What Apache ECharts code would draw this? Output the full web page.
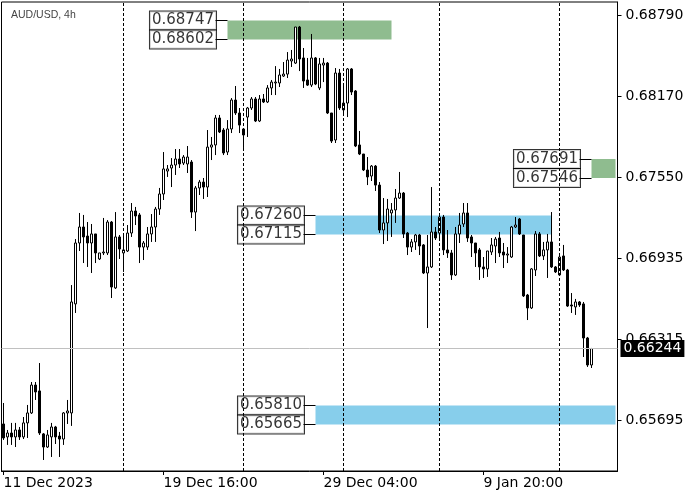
<!DOCTYPE html>
<html>
<head>
<meta charset="utf-8">
<script src="https://cdn.jsdelivr.net/npm/echarts@6/dist/echarts.min.js"></script>
<style>
  html, body { margin: 0; padding: 0; background: #fff; }
  #chart { width: 695px; height: 495px; }
</style>
</head>
<body>
<div id="chart"></div>
<script>
// AUD/USD 4h candles (148 bars)
const opens = [
  0.65669, 0.65570, 0.65600, 0.65570, 0.65623, 0.65570, 0.65677, 0.65753, 0.65966, 0.65921,
  0.65593, 0.65493, 0.65570, 0.65646, 0.65577, 0.65554, 0.65753, 0.65753, 0.66585, 0.67050,
  0.67172, 0.67103, 0.67050, 0.67119, 0.66928, 0.66974, 0.66974, 0.67210, 0.66707, 0.67096,
  0.66974, 0.66989, 0.67126, 0.67294, 0.67264, 0.67019, 0.67019, 0.67119, 0.67172, 0.67309,
  0.67424, 0.67599, 0.67622, 0.67645, 0.67691, 0.67660, 0.67653, 0.67668, 0.67286, 0.67470,
  0.67515, 0.67477, 0.67782, 0.67798, 0.68004, 0.67912, 0.67744, 0.67920, 0.68141, 0.68042,
  0.67920, 0.68011, 0.68080, 0.68149, 0.67981, 0.68149, 0.68126, 0.68233, 0.68271, 0.68271,
  0.68324, 0.68339, 0.68439, 0.68423, 0.68698, 0.68462, 0.68294, 0.68255, 0.68462, 0.68233,
  0.68408, 0.68423, 0.68042, 0.67836, 0.68347, 0.68065, 0.68118, 0.68378, 0.68210, 0.67798,
  0.67729, 0.67607, 0.67561, 0.67637, 0.67492, 0.67149, 0.67203, 0.67279, 0.67302, 0.67393,
  0.67431, 0.67126, 0.67019, 0.67058, 0.67111, 0.67035, 0.66821, 0.66867, 0.67134, 0.67126,
  0.67248, 0.66997, 0.66974, 0.66806, 0.67119, 0.67195, 0.67279, 0.67096, 0.67050, 0.66997,
  0.66867, 0.66852, 0.66981, 0.67027, 0.67088, 0.66981, 0.66958, 0.66943, 0.67172, 0.67233,
  0.67111, 0.66653, 0.66554, 0.66844, 0.67119, 0.66951, 0.66997, 0.67058, 0.66867, 0.66806,
  0.66951, 0.66844, 0.66577, 0.66562, 0.66600, 0.66585, 0.66325, 0.66119
];
const highs = [
  0.65829, 0.65623, 0.65677, 0.65677, 0.65646, 0.65722, 0.65814, 0.65989, 0.65989, 0.66134,
  0.65600, 0.65623, 0.65677, 0.65654, 0.65608, 0.65760, 0.65852, 0.66729, 0.67080, 0.67279,
  0.67264, 0.67210, 0.67195, 0.67119, 0.66974, 0.67241, 0.67225, 0.67218, 0.67286, 0.67111,
  0.67111, 0.67187, 0.67355, 0.67325, 0.67279, 0.67065, 0.67172, 0.67271, 0.67325, 0.67470,
  0.67744, 0.67645, 0.67698, 0.67767, 0.67767, 0.67721, 0.67790, 0.67683, 0.67485, 0.67531,
  0.67546, 0.67912, 0.67859, 0.68027, 0.68027, 0.67927, 0.67988, 0.68156, 0.68248, 0.68080,
  0.67927, 0.68088, 0.68164, 0.68164, 0.68179, 0.68187, 0.68255, 0.68294, 0.68400, 0.68378,
  0.68431, 0.68507, 0.68523, 0.68698, 0.68706, 0.68538, 0.68462, 0.68645, 0.68469, 0.68462,
  0.68462, 0.68431, 0.68042, 0.68385, 0.68378, 0.68255, 0.68385, 0.68385, 0.68217, 0.67905,
  0.67729, 0.67706, 0.67645, 0.67645, 0.67515, 0.67393, 0.67386, 0.67355, 0.67462, 0.67592,
  0.67439, 0.67134, 0.67080, 0.67119, 0.67119, 0.67042, 0.67111, 0.67477, 0.67172, 0.67264,
  0.67264, 0.67149, 0.66997, 0.67172, 0.67279, 0.67355, 0.67355, 0.67111, 0.67050, 0.67012,
  0.66943, 0.66989, 0.67088, 0.67096, 0.67134, 0.67050, 0.67019, 0.67180, 0.67248, 0.67241,
  0.67111, 0.66661, 0.66859, 0.67141, 0.67134, 0.67058, 0.67119, 0.67286, 0.66874, 0.66951,
  0.67035, 0.66852, 0.66668, 0.66623, 0.66607, 0.66600, 0.66333, 0.66249
];
const lows = [
  0.65547, 0.65509, 0.65509, 0.65493, 0.65547, 0.65554, 0.65562, 0.65745, 0.65852, 0.65585,
  0.65394, 0.65486, 0.65417, 0.65516, 0.65417, 0.65509, 0.65669, 0.65654, 0.66516, 0.66989,
  0.66897, 0.66867, 0.66821, 0.66897, 0.66920, 0.66958, 0.66958, 0.66630, 0.66699, 0.66928,
  0.66829, 0.66981, 0.67096, 0.67187, 0.66897, 0.66920, 0.66997, 0.67058, 0.67058, 0.67264,
  0.67378, 0.67554, 0.67477, 0.67569, 0.67622, 0.67645, 0.67584, 0.67241, 0.67141, 0.67416,
  0.67386, 0.67401, 0.67683, 0.67721, 0.67889, 0.67721, 0.67721, 0.67889, 0.68027, 0.67889,
  0.67775, 0.67859, 0.68065, 0.67973, 0.67973, 0.68118, 0.68118, 0.68179, 0.68179, 0.68240,
  0.68317, 0.68309, 0.68393, 0.68416, 0.68362, 0.68233, 0.68248, 0.68240, 0.68255, 0.68217,
  0.68278, 0.68034, 0.67813, 0.67813, 0.68065, 0.68042, 0.68011, 0.68179, 0.67782, 0.67721,
  0.67599, 0.67492, 0.67523, 0.67447, 0.67126, 0.67042, 0.67065, 0.67096, 0.67203, 0.67386,
  0.67088, 0.66958, 0.66981, 0.66997, 0.66958, 0.66813, 0.66401, 0.66859, 0.67073, 0.67073,
  0.66958, 0.66936, 0.66768, 0.66798, 0.67050, 0.67172, 0.67058, 0.66943, 0.66867, 0.66768,
  0.66783, 0.66791, 0.66958, 0.66897, 0.66943, 0.66859, 0.66897, 0.66936, 0.67164, 0.67111,
  0.66638, 0.66462, 0.66546, 0.66798, 0.66943, 0.66920, 0.66783, 0.66859, 0.66821, 0.66798,
  0.66836, 0.66562, 0.66516, 0.66501, 0.66562, 0.66180, 0.66104, 0.66096
];
const closes = [
  0.65562, 0.65600, 0.65570, 0.65623, 0.65570, 0.65677, 0.65753, 0.65966, 0.65913, 0.65600,
  0.65493, 0.65585, 0.65646, 0.65570, 0.65554, 0.65753, 0.65768, 0.66600, 0.67050, 0.67172,
  0.67096, 0.67050, 0.67119, 0.66974, 0.66974, 0.66981, 0.67210, 0.66714, 0.67096, 0.67004,
  0.66997, 0.67126, 0.67294, 0.67256, 0.67019, 0.67050, 0.67119, 0.67172, 0.67309, 0.67424,
  0.67615, 0.67615, 0.67645, 0.67691, 0.67653, 0.67706, 0.67706, 0.67286, 0.67470, 0.67515,
  0.67477, 0.67782, 0.67798, 0.68004, 0.67897, 0.67737, 0.67920, 0.68141, 0.68042, 0.67950,
  0.67874, 0.68080, 0.68149, 0.67981, 0.68149, 0.68126, 0.68233, 0.68278, 0.68278, 0.68332,
  0.68339, 0.68446, 0.68454, 0.68698, 0.68454, 0.68286, 0.68255, 0.68462, 0.68263, 0.68416,
  0.68423, 0.68042, 0.67828, 0.68347, 0.68080, 0.68118, 0.68378, 0.68202, 0.67790, 0.67729,
  0.67607, 0.67554, 0.67637, 0.67492, 0.67149, 0.67203, 0.67309, 0.67302, 0.67393, 0.67431,
  0.67119, 0.67019, 0.67058, 0.67111, 0.67027, 0.66821, 0.66867, 0.67134, 0.67088, 0.67248,
  0.66997, 0.66974, 0.66806, 0.67119, 0.67187, 0.67279, 0.67088, 0.67050, 0.66974, 0.66867,
  0.66852, 0.66989, 0.67035, 0.67080, 0.66974, 0.66958, 0.66966, 0.67172, 0.67187, 0.67119,
  0.66646, 0.66554, 0.66852, 0.67119, 0.66951, 0.66997, 0.67058, 0.66867, 0.66829, 0.66943,
  0.66844, 0.66569, 0.66569, 0.66600, 0.66577, 0.66325, 0.66119, 0.66244
];

// x slots (bars + empty right margin), time labels, week separators
const slotCount = 154;
const tickIdx = [0, 40, 80, 120];
const tickText = ['11 Dec 2023', '19 Dec 16:00', '29 Dec 04:00', '9 Jan 20:00'];
const separators = [30, 60, 85, 109, 139];

// price scale
const priceMin = 0.65310;
const priceMax = 0.68889;
const priceTicks = [0.65695, 0.66315, 0.66935, 0.67550, 0.68170, 0.68790];
const lastPrice = 0.66244;

// supply / demand zones
const zoneTop = [0.68747, 0.67691, 0.67260, 0.65810];
const zoneBottom = [0.68602, 0.67546, 0.67115, 0.65665];
const zoneStart = [56, 147, 78, 78];
const zoneEnd = [97, 153, 137, 153];
const zoneColor = ['#8fbc8f', '#8fbc8f', '#87ceeb', '#87ceeb'];

const FONT = 'DejaVu Sans';

let slots = [];
for (let i = 0; i < slotCount; i++) slots.push(String(i));

let candles = opens.map((o, i) => [o, closes[i], lows[i], highs[i]]);

let areaData = zoneTop.map((t, k) => [
  {xAxis: zoneStart[k], yAxis: t, itemStyle: {color: zoneColor[k], opacity: 1}},
  {xAxis: zoneEnd[k], yAxis: zoneBottom[k]}
]);

let lineData = [];
separators.forEach(idx => {
  lineData.push({
    xAxis: idx,
    lineStyle: {type: [3, 2], color: '#000', width: 1},
    label: {show: false}
  });
});
lineData.push({
  yAxis: lastPrice,
  lineStyle: {type: 'solid', color: '#c0c0c0', width: 1},
  label: {
    show: true,
    position: 'end',
    distance: 3,
    formatter: () => lastPrice.toFixed(5),
    backgroundColor: '#000',
    color: '#fff',
    fontFamily: FONT,
    fontSize: 14,
    padding: [2, 3, 1, 3]
  }
});
// short connectors from the price boxes to the zones
zoneTop.forEach((t, k) => {
  [t, zoneBottom[k]].forEach(p => {
    lineData.push([
      {coord: [zoneStart[k] - 3, p], lineStyle: {type: 'solid', color: '#000', width: 1}, label: {show: false}},
      {coord: [zoneStart[k], p]}
    ]);
  });
});

let zoneLabels = [];
zoneTop.forEach((t, k) => {
  zoneLabels.push([zoneStart[k], t]);
  zoneLabels.push([zoneStart[k], zoneBottom[k]]);
});

const chart = echarts.init(document.getElementById('chart'));
chart.setOption({
  animation: false,
  backgroundColor: '#fff',
  title: {
    text: 'AUD/USD, 4h',
    left: 11,
    top: 10,
    padding: 0,
    textStyle: {fontSize: 10.5, fontWeight: 'normal', color: '#444', fontFamily: 'Liberation Sans'}
  },
  grid: {
    left: 1.5, right: 77.5, top: 2, bottom: 24,
    show: true, borderColor: '#000', borderWidth: 1, backgroundColor: '#fff'
  },
  xAxis: {
    type: 'category',
    data: slots,
    boundaryGap: true,
    axisLine: {show: true, lineStyle: {color: '#000', width: 1}},
    axisTick: {
      show: true,
      alignWithLabel: true,
      length: 4,
      interval: (index) => tickIdx.indexOf(index) >= 0,
      lineStyle: {color: '#000'}
    },
    axisLabel: {
      interval: (index) => tickIdx.indexOf(index) >= 0,
      formatter: (value) => tickText[tickIdx.indexOf(Number(value))] || '',
      align: 'left',
      margin: 5,
      color: '#000',
      fontFamily: FONT,
      fontSize: 14
    },
    splitLine: {show: false}
  },
  yAxis: {
    type: 'value',
    position: 'right',
    min: priceMin,
    max: priceMax,
    scale: true,
    axisLine: {show: true, lineStyle: {color: '#000', width: 1}},
    axisTick: {show: true, length: 4, customValues: priceTicks, lineStyle: {color: '#000'}},
    axisLabel: {
      customValues: priceTicks,
      formatter: v => v.toFixed(5),
      margin: 8,
      color: '#000',
      fontFamily: FONT,
      fontSize: 14
    },
    splitLine: {show: false}
  },
  series: [
    {
      type: 'candlestick',
      data: candles,
      barWidth: 2,
      silent: true,
      itemStyle: {
        color: '#fff',
        color0: '#000',
        borderColor: '#000',
        borderColor0: '#000',
        borderColorDoji: '#000',
        borderWidth: 1
      },
      markArea: {silent: true, data: areaData},
      markLine: {silent: true, precision: 5, symbol: ['none', 'none'], data: lineData}
    },
    {
      type: 'scatter',
      data: zoneLabels,
      symbolSize: 1,
      silent: true,
      itemStyle: {color: 'rgba(0,0,0,0)'},
      label: {
        show: true,
        position: 'left',
        distance: 11,
        formatter: p => p.value[1].toFixed(5),
        backgroundColor: '#fff',
        borderColor: '#000',
        borderWidth: 1,
        padding: [1, 2, 0, 2],
        lineHeight: 17,
        color: '#000',
        fontFamily: FONT,
        fontSize: 15
      }
    }
  ]
});
</script>
</body>
</html>
